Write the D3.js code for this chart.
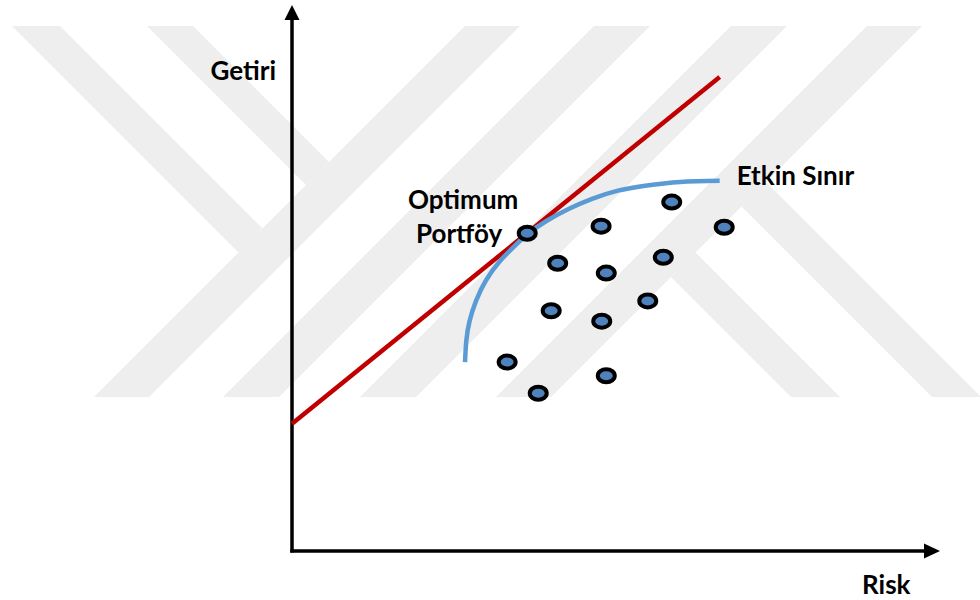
<!DOCTYPE html>
<html>
<head>
<meta charset="utf-8">
<script src="https://cdn.jsdelivr.net/npm/d3@7"></script>
<style>
  html, body { margin: 0; padding: 0; background: #ffffff; }
  svg { display: block; }
  text { font-family: Lato, "Open Sans", sans-serif; font-weight: bold; fill: #000; }
</style>
</head>
<body>
<svg id="chart" width="980" height="600"></svg>
<script>
// ---- data (risk / return units, 0..100) ----
const portfolioRisk   = [36.3, 58.6, 47.7, 66.7, 41.0, 48.5, 57.3, 40.0, 47.8, 54.9, 33.2, 48.5, 38.0];
const portfolioReturn = [58.2, 63.9, 59.5, 59.3, 52.7, 50.9, 53.8, 44.0, 42.1, 45.8, 34.6, 32.1, 28.9];

const frontierRisk   = [26.7, 26.9, 27.4, 28.4, 29.9, 32.1, 34.4, 36.3, 39.2, 42.6, 46.3, 50.3, 54.5, 59.9, 66.0];
const frontierReturn = [34.6, 38.5, 42.1, 45.8, 49.5, 53.1, 55.9, 58.0, 60.4, 62.6, 64.5, 66.0, 66.9, 67.6, 67.8];

const cmlRisk   = [0, 66.0];
const cmlReturn = [23.3, 86.8];

const axisLabels = { x: "Risk", y: "Getiri" };
const frontierLabel = "Etkin Sınır";
const optimumLabel = ["Optimum", "Portföy"];

(function () {
// ---- layout ----
const svg = d3.select("#chart");
const x = d3.scaleLinear().domain([0, 100]).range([292, 940]);
const y = d3.scaleLinear().domain([0, 100]).range([551, 5]);

// ---- background watermark (decorative bands) ----
const wm = svg.append("g").attr("fill", "#eeeeee");
const wTop = 26, wBot = 397;
const pts = arr => arr.map(p => p.join(",")).join(" ");
// "/" bands: left edge x at top, width
const slashBands = [[465, 55], [594, 56], [731, 56], [867, 55]];
slashBands.forEach(([x0, w]) => {
  const d = wBot - wTop;
  wm.append("polygon").attr("points",
    pts([[x0, wTop], [x0 + w, wTop], [x0 + w - d, wBot], [x0 - d, wBot]]));
});
// "\" bands attached to the first "/" band (left side), ending at its left edge
[[-14, 34], [121, 167]].forEach(([lo, hi]) => {
  const yHi = (491 - hi) / 2, yLo = (491 - lo) / 2;
  wm.append("polygon").attr("points",
    pts([[wTop + lo, wTop], [wTop + hi, wTop], [yHi + hi, yHi], [yLo + lo, yLo]]));
});
// "\" bands attached to the last "/" band (right side), running to the bottom
[[394, 443], [535, 584]].forEach(([lo, hi]) => {
  const yLo = (948 - lo) / 2, yHi = (948 - hi) / 2;
  wm.append("polygon").attr("points",
    pts([[yLo + lo, yLo], [yHi + hi, yHi], [wBot + hi, wBot], [wBot + lo, wBot]]));
});

// ---- axes with arrows ----
const axG = svg.append("g");
axG.append("line")
  .attr("x1", x(0)).attr("y1", y(0) + 1.5).attr("x2", x(0)).attr("y2", y(100) + 14)
  .attr("stroke", "#000").attr("stroke-width", 3.5);
axG.append("line")
  .attr("x1", x(0) - 1.75).attr("y1", y(0)).attr("x2", x(100) - 15).attr("y2", y(0))
  .attr("stroke", "#000").attr("stroke-width", 3.5);
axG.append("polygon")
  .attr("points", `${x(0)},${y(100)} ${x(0) - 7.5},${y(100) + 15} ${x(0) + 7.5},${y(100) + 15}`)
  .attr("fill", "#000");
axG.append("polygon")
  .attr("points", `${x(100)},${y(0)} ${x(100) - 16},${y(0) - 7.5} ${x(100) - 16},${y(0) + 7.5}`)
  .attr("fill", "#000");

// ---- capital market line ----
const line = d3.line().x(d => x(d[0])).y(d => y(d[1]));
svg.append("path")
  .datum(d3.zip(cmlRisk, cmlReturn))
  .attr("d", line)
  .attr("fill", "none").attr("stroke", "#c00000").attr("stroke-width", 4.5);

// ---- efficient frontier ----
svg.append("path")
  .datum(d3.zip(frontierRisk, frontierReturn))
  .attr("d", line.curve(d3.curveNatural))
  .attr("fill", "none").attr("stroke", "#5b9bd5").attr("stroke-width", 4.5);

// ---- portfolios ----
svg.append("g").selectAll("ellipse")
  .data(d3.zip(portfolioRisk, portfolioReturn))
  .join("ellipse")
  .attr("cx", d => x(d[0])).attr("cy", d => y(d[1]))
  .attr("rx", 8.5).attr("ry", 6.5)
  .attr("fill", "#4f81bd").attr("stroke", "#000").attr("stroke-width", 4);

// ---- labels ----
svg.append("text").attr("x", x(0) - 16).attr("y", 80)
  .attr("text-anchor", "end").attr("font-size", 26).text(axisLabels.y);
svg.append("text").attr("x", 862).attr("y", 594)
  .attr("font-size", 26).text(axisLabels.x);
svg.append("text").attr("x", x(frontierRisk[frontierRisk.length - 1]) + 17).attr("y", 185)
  .attr("font-size", 26).text(frontierLabel);
svg.append("text").attr("x", 408).attr("y", 209)
  .attr("font-size", 26).text(optimumLabel[0]);
svg.append("text").attr("x", 416).attr("y", 243)
  .attr("font-size", 26).text(optimumLabel[1]);
})();
</script>
</body>
</html>
